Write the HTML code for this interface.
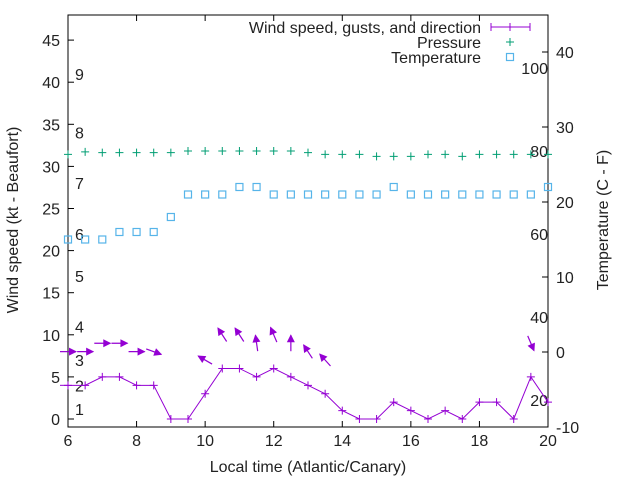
<!DOCTYPE html>
<html><head><meta charset="utf-8"><style>
body{margin:0;background:#fff}
svg{display:block;font-family:"Liberation Sans",Arial,sans-serif}
</style></head><body>
<svg id="chart" width="640" height="480" xmlns="http://www.w3.org/2000/svg"></svg>
<script>
const hours=[6,6.5,7,7.5,8,8.5,9,9.5,10,10.5,11,11.5,12,12.5,13,13.5,14,14.5,15,15.5,16,16.5,17,17.5,18,18.5,19,19.5,20];
const windSpeed=[4,4,5,5,4,4,0,0,3,6,6,5,6,5,4,3,1,0,0,2,1,0,1,0,2,2,0,5,2];
const temperature=[15,15,15,16,16,16,18,21,21,21,22,22,21,21,21,21,21,21,21,22,21,21,21,21,21,21,21,21,22];
const pressure=[79.2,79.8,79.6,79.6,79.6,79.6,79.6,80,80,80,80,80,80,80,79.6,79.2,79.2,79.2,78.7,78.7,78.7,79.2,79.2,78.7,79.2,79.2,79.2,79.2,79.2];
const arrowHours=[6,6.5,7,7.5,8,8.5,10,10.5,11,11.5,12,12.5,13,13.5,19.5];
const gusts=[8,8,9,9,8,8,7,10,10,9,10,9,8,7,9];
const directions=[90,90,90,90,90,110,300,327,327,352,337,0,327,318,157];
const xTicks=[6,8,10,12,14,16,18,20];
const yTicks=[0,5,10,15,20,25,30,35,40,45];
const y2Ticks=[-10,0,10,20,30,40];
const beaufortLabels=["1","2","3","4","5","6","7","8","9"];
const beaufortY=[1.2,4,7,11,17,22,28,34,41];
const pressureLabels=[20,40,60,80,100];

const L=68,R=548,T=15,B=427;
const sx=h=>L+(h-6)*(R-L)/14;
const sy=v=>419-v*8.42;
const sy2=t=>352-t*7.5;
const sp=p=>151-(p-80)*4.15;
const svg=document.getElementById('chart');
const NS='http://www.w3.org/2000/svg';
function mk(tag,at,parent){const e=document.createElementNS(NS,tag);for(const k in at)e.setAttribute(k,at[k]);(parent||svg).appendChild(e);return e;}
function txt(x,y,s,anchor,parent){const e=mk('text',{x:x,y:y,'font-size':'16','text-anchor':anchor||'middle',fill:'#222'},parent);e.textContent=s;return e;}

let fr=mk('rect',{x:L,y:T,width:R-L,height:B-T,fill:'none',stroke:'#000','stroke-width':1});



const gx=mk('g',{});


xTicks.forEach(h=>{
  mk('line',{x1:sx(h),x2:sx(h),y1:B,y2:B-6,stroke:'#000'},gx);
  mk('line',{x1:sx(h),x2:sx(h),y1:T,y2:T+6,stroke:'#000'},gx);
  const t=txt(sx(h),B+19,String(h),'middle',gx);
  
  
});
const gy=mk('g',{});


yTicks.forEach(v=>{
  mk('line',{x1:L,x2:L+6,y1:sy(v),y2:sy(v),stroke:'#000'},gy);
  const t=txt(L-8,sy(v)+6,String(v),'end',gy);
  
  
});
const gy2=mk('g',{});


y2Ticks.forEach(v=>{
  mk('line',{x1:R,x2:R-6,y1:sy2(v),y2:sy2(v),stroke:'#000'},gy2);
  const t=txt(R+8,sy2(v)+6,String(v),'start',gy2);
  
  
});
beaufortLabels.forEach((s,i)=>{
  const t=txt(75,sy(beaufortY[i])+6,s,'start');
  
  
});
pressureLabels.forEach(p=>{
  const t=txt(R,sp(p)+6,String(p),'end');
  
  
});

let a=txt(308,472,'Local time (Atlantic/Canary)');


a=txt(0,0,'Wind speed (kt - Beaufort)');
a.setAttribute('transform','translate(18,220) rotate(-90)');


a=txt(0,0,'Temperature (C - F)');
a.setAttribute('transform','translate(608,220) rotate(-90)');



const gp=mk('g',{stroke:'#009e73','stroke-width':1});


pressure.forEach((p,i)=>{
  const x=sx(hours[i]),y=sp(p);
  const m=mk('path',{d:`M${x-4},${y}H${x+4}M${x},${y-4}V${y+4}`},gp);
  
  
});
const gt=mk('g',{stroke:'#56b4e9','stroke-width':1.2,fill:'none'});


temperature.forEach((t,i)=>{
  const m=mk('rect',{x:sx(hours[i])-3.5,y:sy2(t)-3.5,width:7,height:7},gt);
  
  
});
const gw=mk('g',{stroke:'#9400d3','stroke-width':1,fill:'none'});


const ln=mk('polyline',{points:windSpeed.map((v,i)=>sx(hours[i])+','+sy(v)).join(' ')},gw);


windSpeed.forEach((v,i)=>{
  const x=sx(hours[i]),y=sy(v);
  const m=mk('path',{d:`M${x-4},${y}H${x+4}M${x},${y-4}V${y+4}`},gw);
  
  
});
mk('line',{x1:60,x2:sx(6),y1:sy(4),y2:sy(4),stroke:'#9400d3'},gw);
const ga=mk('g',{});


arrowHours.forEach((h,i)=>{
  const cx=sx(h),cy=sy(gusts[i]),r=directions[i]*Math.PI/180,len=8;
  const dx=Math.sin(r),dy=-Math.cos(r);
  const x1=cx-dx*len,y1=cy-dy*len,x2=cx+dx*len,y2=cy+dy*len;
  const g=mk('g',{},ga);
  
  
  mk('line',{x1:x1,y1:y1,x2:x2,y2:y2,stroke:'#9400d3','stroke-width':1.2},g);
  const px=-dy,py=dx;
  mk('path',{d:`M${x2+dx*1},${y2+dy*1}L${x2-dx*7+px*4},${y2-dy*7+py*4}L${x2-dx*7-px*4},${y2-dy*7-py*4}Z`,fill:'#9400d3'},g);
});
const lg=mk('g',{});


[['Wind speed, gusts, and direction',27],['Pressure',42],['Temperature',57]].forEach((e,i)=>{
  const t=txt(481,e[1]+6,e[0],'end',lg);
  
  
});
mk('path',{d:'M491,27H530M491,23V31M530,23V31M510,23V31',stroke:'#9400d3',fill:'none'},lg);
mk('path',{d:'M506,42H514M510,38V46',stroke:'#009e73'},lg);
mk('rect',{x:506.5,y:53.5,width:7,height:7,stroke:'#56b4e9','stroke-width':1.2,fill:'none'},lg);
</script>
</body></html>
